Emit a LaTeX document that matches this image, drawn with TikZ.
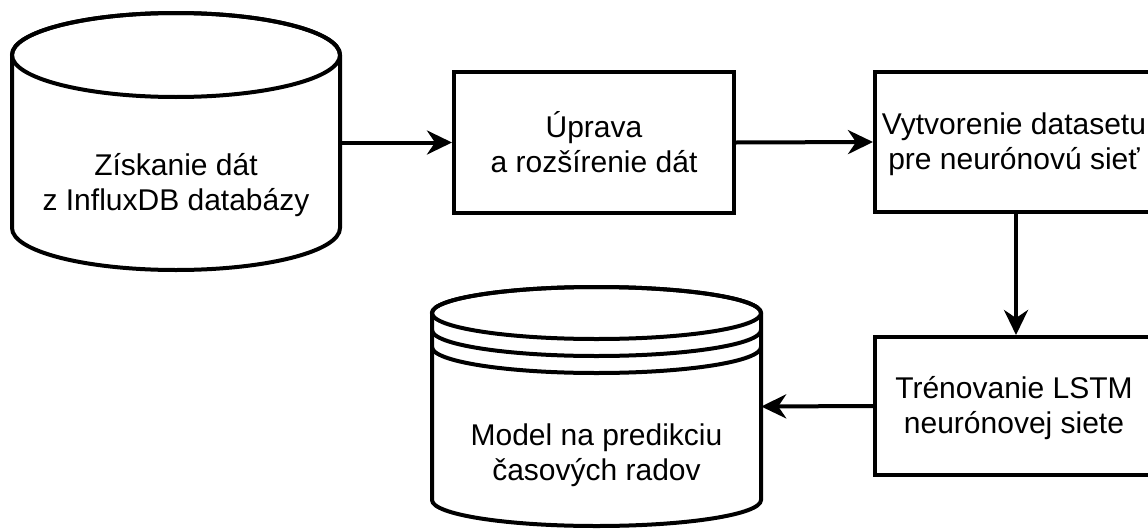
\documentclass[tikz,border=0pt]{standalone}
\usepackage{fontspec}
\setmainfont{Liberation Sans}
\usetikzlibrary{arrows.meta}
\begin{document}
\begin{tikzpicture}[x=1pt,y=1pt,
  every node/.style={font=\fontsize{30}{35}\selectfont, align=center, inner sep=0pt},
  procbox/.style={draw, line width=4pt, fill=white},
  outline/.style={draw, line width=4pt, fill=white},
  flow/.style={line width=4pt, -{Stealth[length=25pt,width=24pt,inset=8pt]}}
]
\clip (0,0) rectangle (1148,-530);
\fill[white] (0,0) rectangle (1148,-530);

% cylinder 1
\path[outline] (12,-55) -- (12,-228) arc[start angle=180,end angle=360,x radius=164,y radius=42] -- (340,-55) arc[start angle=0,end angle=180,x radius=164,y radius=42] -- cycle;
\draw[line width=4pt] (176,-55) ellipse[x radius=164,y radius=42];
\node[minimum width=328pt, minimum height=255pt] (c1) at (176,-142.5) {};
\node (c1t) at (176,-185) {Získanie dát\\z InfluxDB databázy};

% box 2
\node[procbox, minimum width=280pt, minimum height=141pt] (b2) at (594,-142.5) {Úprava\\a rozšírenie dát};
% box 3
\node[procbox, minimum width=282pt, minimum height=140pt] (b3) at (1016,-142) {};
\node (b3t) at (1014,-144) {Vytvorenie datasetu\\pre neurónovú sieť};
% box 4
\node[procbox, minimum width=282pt, minimum height=138pt] (b4) at (1016,-406) {};
\node (b4t) at (1014,-408) {Trénovanie LSTM\\neurónovej siete};

% cylinder 2 (datastore)
\path[outline] (432,-313) -- (432,-500) arc[start angle=180,end angle=360,x radius=164.5,y radius=26] -- (761,-313) arc[start angle=0,end angle=180,x radius=164.5,y radius=26] -- cycle;
\draw[line width=4pt] (596.5,-313) ellipse[x radius=164.5,y radius=26];
\draw[line width=4pt] (432,-330) arc[start angle=180,end angle=360,x radius=164.5,y radius=26];
\draw[line width=4pt] (432,-347) arc[start angle=180,end angle=360,x radius=164.5,y radius=26];
\node[minimum width=329pt, minimum height=239pt] (c2) at (596.5,-406.5) {};
\node (c2t) at (596.5,-455) {Model na predikciu\\časových radov};

% connectors
\draw[flow] (c1.east) -- (b2.west);
\draw[flow] (b2.east) -- (b3.west);
\draw[flow] (b3.south) -- (b4.north);
\draw[flow] (b4.west) -- (c2.east);
\end{tikzpicture}
\end{document}
